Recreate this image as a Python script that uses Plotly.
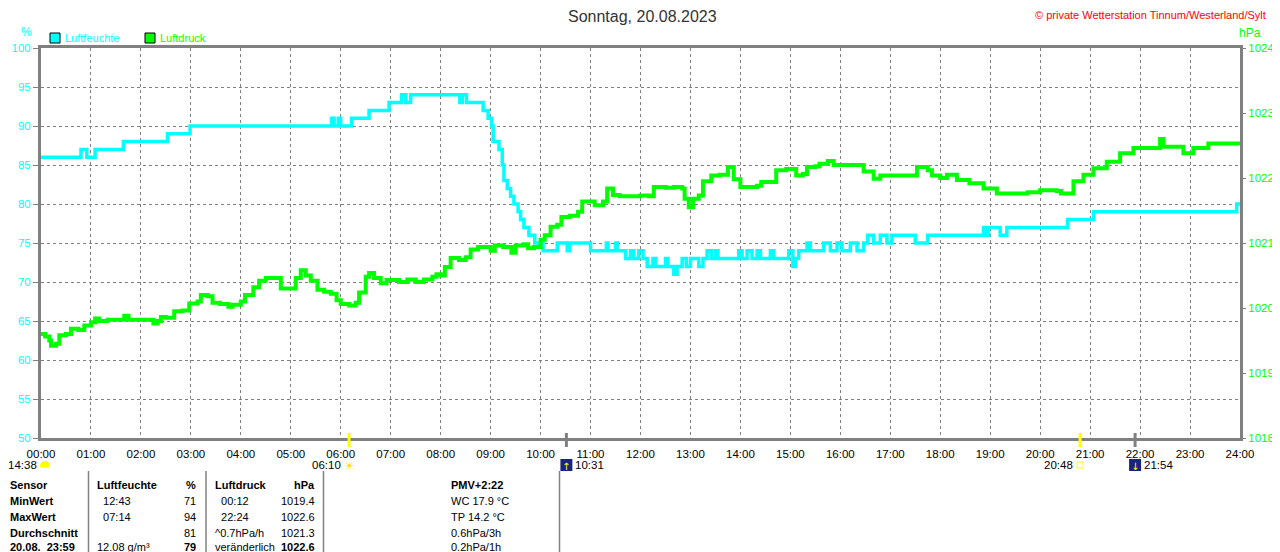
import plotly.graph_objects as go

# ---------------------------------------------------------------- DATA
hour_labels = ["%02d:00" % h for h in range(25)]

# Luftfeuchte (%), step values at change times
hum_time = ["00:00", "00:48", "00:55", "01:05", "01:39", "02:32", "02:59", "05:49", "05:52", "05:57",
            "06:00", "06:13", "06:34", "06:58", "07:13", "07:18", "07:24", "08:23", "08:26", "08:31",
            "08:51", "08:57", "09:01", "09:03", "09:10", "09:14", "09:16", "09:20", "09:24", "09:28",
            "09:33", "09:36", "09:40", "09:46", "09:53", "10:03", "10:20", "10:32", "10:35", "11:00",
            "11:19", "11:21", "11:30", "11:32", "11:42", "11:48", "11:52", "11:58", "12:03", "12:08",
            "12:15", "12:18", "12:30", "12:33", "12:40", "12:44", "12:50", "12:55", "13:00", "13:10",
            "13:15", "13:20", "13:25", "13:30", "13:33", "13:58", "14:02", "14:08", "14:14", "14:20",
            "14:24", "14:36", "14:40", "14:58", "15:03", "15:06", "15:10", "15:20", "15:24", "15:40",
            "15:48", "15:56", "16:02", "16:12", "16:20", "16:28", "16:33", "16:40", "16:48", "16:56",
            "17:02", "17:30", "17:45", "18:52", "18:55", "18:58", "19:12", "19:20", "20:33", "21:04",
            "23:56", "24:00"]
hum_val = [86, 87, 86, 87, 88, 89, 90, 91, 90, 91,
           90, 91, 92, 93, 94, 93, 94, 93, 94, 93,
           92, 91, 90, 88, 87, 85, 83, 82, 81, 80,
           79, 78, 77, 76, 75, 74, 75, 74, 75, 74,
           75, 74, 75, 74, 73, 74, 73, 74, 73, 72,
           73, 72, 73, 72, 71, 72, 73, 72, 73, 72,
           73, 74, 73, 74, 73, 74, 73, 74, 73, 74,
           73, 74, 73, 74, 72, 73, 74, 75, 74, 75,
           74, 75, 74, 75, 74, 75, 76, 75, 76, 75,
           76, 75, 76, 77, 76, 77, 76, 77, 78, 79,
           80, 80]

# Luftdruck (hPa)
pres_time = ["00:00", "00:05", "00:10", "00:12", "00:18", "00:22", "00:30", "00:36", "00:45", "00:52",
             "01:00", "01:05", "01:10", "01:20", "01:30", "01:40", "01:45", "02:00", "02:10", "02:15",
             "02:20", "02:24", "02:30", "02:40", "02:50", "02:58", "03:08", "03:12", "03:20", "03:26",
             "03:35", "03:45", "03:50", "04:00", "04:05", "04:15", "04:22", "04:30", "04:40", "04:48",
             "05:00", "05:06", "05:12", "05:18", "05:24", "05:32", "05:40", "05:48", "05:55", "06:00",
             "06:10", "06:18", "06:22", "06:30", "06:34", "06:40", "06:48", "06:55", "07:00", "07:10",
             "07:20", "07:30", "07:40", "07:50", "07:55", "08:00", "08:05", "08:12", "08:22", "08:30",
             "08:36", "08:45", "08:55", "09:00", "09:05", "09:15", "09:25", "09:30", "09:40", "09:45",
             "09:52", "10:00", "10:05", "10:12", "10:20", "10:25", "10:35", "10:45", "10:50", "11:00",
             "11:05", "11:15", "11:20", "11:27", "11:35", "11:50", "12:00", "12:10", "12:16", "12:30",
             "12:40", "12:50", "12:53", "12:58", "13:03", "13:10", "13:15", "13:25", "13:35", "13:45",
             "13:52", "14:00", "14:10", "14:20", "14:25", "14:35", "14:43", "14:55", "15:07", "15:15",
             "15:20", "15:30", "15:35", "15:45", "15:52", "16:00", "16:15", "16:28", "16:40", "16:48",
             "17:00", "17:15", "17:32", "17:45", "17:50", "18:00", "18:08", "18:20", "18:35", "18:52",
             "19:08", "19:30", "19:45", "20:00", "20:20", "20:25", "20:40", "20:52", "21:04", "21:20",
             "21:36", "21:52", "22:10", "22:24", "22:28", "22:40", "22:52", "23:04", "23:22", "23:40",
             "24:00"]
pres_val = [1019.60, 1019.56, 1019.50, 1019.42, 1019.45, 1019.58, 1019.60, 1019.68, 1019.66, 1019.73,
            1019.78, 1019.84, 1019.80, 1019.82, 1019.82, 1019.88, 1019.82, 1019.82, 1019.82, 1019.76,
            1019.80, 1019.86, 1019.85, 1019.95, 1019.96, 1020.07, 1020.10, 1020.20, 1020.18, 1020.08,
            1020.06, 1020.02, 1020.05, 1020.10, 1020.20, 1020.32, 1020.42, 1020.46, 1020.46, 1020.30,
            1020.30, 1020.46, 1020.58, 1020.50, 1020.42, 1020.28, 1020.25, 1020.22, 1020.12, 1020.06,
            1020.04, 1020.08, 1020.24, 1020.48, 1020.54, 1020.46, 1020.38, 1020.43, 1020.43, 1020.40,
            1020.44, 1020.40, 1020.44, 1020.48, 1020.52, 1020.50, 1020.63, 1020.77, 1020.74, 1020.78,
            1020.90, 1020.94, 1020.94, 1020.88, 1020.96, 1020.94, 1020.85, 1020.96, 1020.98, 1020.92,
            1020.94, 1021.05, 1021.12, 1021.25, 1021.28, 1021.40, 1021.42, 1021.48, 1021.64, 1021.64,
            1021.58, 1021.64, 1021.84, 1021.74, 1021.72, 1021.72, 1021.73, 1021.72, 1021.86, 1021.85,
            1021.86, 1021.84, 1021.68, 1021.55, 1021.68, 1021.73, 1021.95, 1022.04, 1022.05, 1022.17,
            1021.98, 1021.86, 1021.86, 1021.88, 1021.94, 1021.94, 1022.12, 1022.14, 1022.04, 1022.06,
            1022.17, 1022.18, 1022.22, 1022.26, 1022.20, 1022.20, 1022.20, 1022.10, 1021.99, 1022.04,
            1022.04, 1022.04, 1022.17, 1022.12, 1022.04, 1022.00, 1022.05, 1021.97, 1021.92, 1021.84,
            1021.76, 1021.76, 1021.78, 1021.81, 1021.80, 1021.76, 1021.95, 1022.05, 1022.15, 1022.25,
            1022.38, 1022.46, 1022.46, 1022.60, 1022.48, 1022.48, 1022.38, 1022.46, 1022.53, 1022.53,
            1022.55]

# sun / moon events below the time axis
sunrise, sunset = "06:10", "20:48"
moonrise, moonset = "10:31", "21:54"
moonset_prev = "14:38"

table_rows = [
    ["Sensor", "Luftfeuchte", "%", "Luftdruck", "hPa", "PMV+2:22"],
    ["MinWert", "  12:43", "71", "  00:12", "1019.4", "WC 17.9 °C"],
    ["MaxWert", "  07:14", "94", "  22:24", "1022.6", "TP 14.2 °C"],
    ["Durchschnitt", "", "81", "^0.7hPa/h", "1021.3", "0.6hPa/3h"],
    ["20.08.  23:59", "12.08 g/m³", "79", "veränderlich", "1022.6", "0.2hPa/1h"],
]

CYAN = "#00FFFF"
GREEN = "#00FF00"
GRAY = "#808080"
FONT = "Liberation Sans"


def hours(t):
    h, m = t.split(":")
    return int(h) + int(m) / 60.0


# screen pixel -> paper helpers (plot area 41..1240 x 48..438 on screen)
def px(x):
    return (x - 41) / 1199.0


def py(y):
    return (438 - y) / 390.0


def note(x, y, text, xref="paper", xanchor="center", **kw):
    d = dict(x=x, y=y, xref=xref, yref="paper", text=text, showarrow=False,
             xanchor=xanchor, yanchor="middle")
    d.update(kw)
    return d


# ---------------------------------------------------------------- FIGURE
fig = go.Figure()
fig.add_trace(go.Scatter(x=[hours(t) for t in pres_time], y=pres_val, yaxis="y2",
                         mode="lines", line=dict(color=GREEN, width=4, shape="hv"),
                         name="Luftdruck", hoverinfo="skip"))
fig.add_trace(go.Scatter(x=[hours(t) for t in hum_time], y=hum_val,
                         mode="lines", line=dict(color=CYAN, width=3.5, shape="hv"),
                         name="Luftfeuchte", hoverinfo="skip"))

# page body has an 8px margin, so the figure is 8px smaller and shifted
fig.update_layout(
    width=1272, height=544, showlegend=False,
    margin=dict(l=33, r=40, t=40, b=114, autoexpand=False),
    paper_bgcolor="white", plot_bgcolor="white",
    font=dict(family=FONT, size=11, color="black"),
    xaxis=dict(range=[0, 24], tickvals=list(range(25)), ticktext=hour_labels,
               showgrid=True, gridcolor=GRAY, griddash="3px,3px", gridwidth=1,
               showline=True, linecolor=GRAY, linewidth=3, mirror=True, automargin=False,
               ticks="", ticklabelstandoff=3, zeroline=False,
               tickfont=dict(size=11.5, color="black")),
    yaxis=dict(range=[50, 100], dtick=5, showgrid=True, gridcolor=GRAY,
               griddash="3px,3px", gridwidth=1, showline=True, linecolor=GRAY,
               linewidth=3, mirror=True, ticks="outside", ticklen=5, tickcolor=GRAY,
               automargin=False, zeroline=False, tickfont=dict(size=11.5, color=CYAN)),
    yaxis2=dict(range=[1018, 1024], dtick=1, overlaying="y", side="right",
                showgrid=False, zeroline=False, ticks="outside", ticklen=5,
                automargin=False, tickcolor=GRAY, tickfont=dict(size=11.5, color=GREEN)),
)

ann = []
shapes = []

# title and copyright
ann.append(note(px(642), py(16), "Sonntag, 20.08.2023", font=dict(size=16, color="#333333")))
ann.append(note(px(1268), py(15), "© private Wetterstation Tinnum/Westerland/Sylt",
                xanchor="right", font=dict(size=11, color="#FF0000")))
ann.append(note(px(26), py(32), "%", font=dict(size=12, color=CYAN)))
ann.append(note(px(1250), py(33), "hPa", font=dict(size=12, color=GREEN)))

# legend boxes
for x0, col, label in [(50, CYAN, "Luftfeuchte"), (145, GREEN, "Luftdruck")]:
    shapes.append(dict(type="rect", xref="paper", yref="paper", x0=px(x0), x1=px(x0 + 10),
                       y0=py(43), y1=py(33), fillcolor=col, line=dict(color="black", width=1)))
    ann.append(note(px(x0 + 13), py(38), label, xanchor="left", font=dict(size=11, color=col)))

# sun / moon markers on the time axis
for t, col in [(sunrise, "#FFFF00"), (sunset, "#FFFF00"), (moonrise, GRAY), (moonset, GRAY)]:
    shapes.append(dict(type="line", xref="x", yref="paper", x0=hours(t), x1=hours(t),
                       y0=py(433), y1=py(447), line=dict(color=col, width=3)))

ann.append(note(px(39), py(465), moonset_prev, xanchor="right", font=dict(size=11.5)))
shapes.append(dict(type="circle", xref="paper", yref="paper", x0=px(40), x1=px(50),
                   y0=py(471), y1=py(461), fillcolor="#FFFF00", line=dict(width=0)))
shapes.append(dict(type="rect", xref="paper", yref="paper", x0=px(39), x1=px(51),
                   y0=py(472), y1=py(467.5), fillcolor="white", line=dict(width=0)))

ann.append(note(hours(sunrise), py(466), "☀", xref="x",
                font=dict(size=12, color="#FFE000", family="DejaVu Sans")))
ann.append(note(hours(sunrise) - 0.12, py(465), sunrise, xref="x", xanchor="right", font=dict(size=11.5)))

shapes.append(dict(type="rect", xref="x", yref="paper", x0=hours(sunset) - 0.06, x1=hours(sunset) + 0.06,
                   y0=py(468), y1=py(462), fillcolor="white", line=dict(color="#FFFF00", width=1)))
ann.append(note(hours(sunset) - 0.11, py(465), sunset, xref="x", xanchor="right", font=dict(size=11.5)))

for t, arrow in [(moonrise, "↑"), (moonset, "↓")]:
    shapes.append(dict(type="rect", xref="x", yref="paper", x0=hours(t) - 0.12, x1=hours(t) + 0.12,
                       y0=py(471), y1=py(459), fillcolor="#1A237E", line=dict(width=0)))
    ann.append(note(hours(t), py(466), arrow, xref="x",
                    font=dict(size=10, color="#FFFF00", family="DejaVu Sans")))
    ann.append(note(hours(t) + 0.14, py(465), t, xref="x", xanchor="left", font=dict(size=11.5)))

# bottom table
col_x = [(8, "left"), (95, "left"), (198, "right"), (213, "left"), (317, "right"), (449, "left")]
row_y = [485, 501, 517, 532.5, 547]
for r, row in enumerate(table_rows):
    for c, txt in enumerate(row):
        if not txt:
            continue
        bold = r == 0 or c == 0 or (r == 4 and c in (2, 4))
        x, anchor = col_x[c]
        ann.append(note(px(x), py(row_y[r]), ("<b>%s</b>" % txt) if bold else txt,
                        xanchor=anchor, font=dict(size=11, color="black")))

for xs in [88.5, 206, 323.5, 559.5, 1278]:
    shapes.append(dict(type="line", xref="paper", yref="paper", x0=px(xs), x1=px(xs),
                       y0=py(471), y1=py(560), line=dict(color=GRAY, width=1.5)))

fig.update_layout(annotations=ann, shapes=shapes)
fig.write_html("out.html")
